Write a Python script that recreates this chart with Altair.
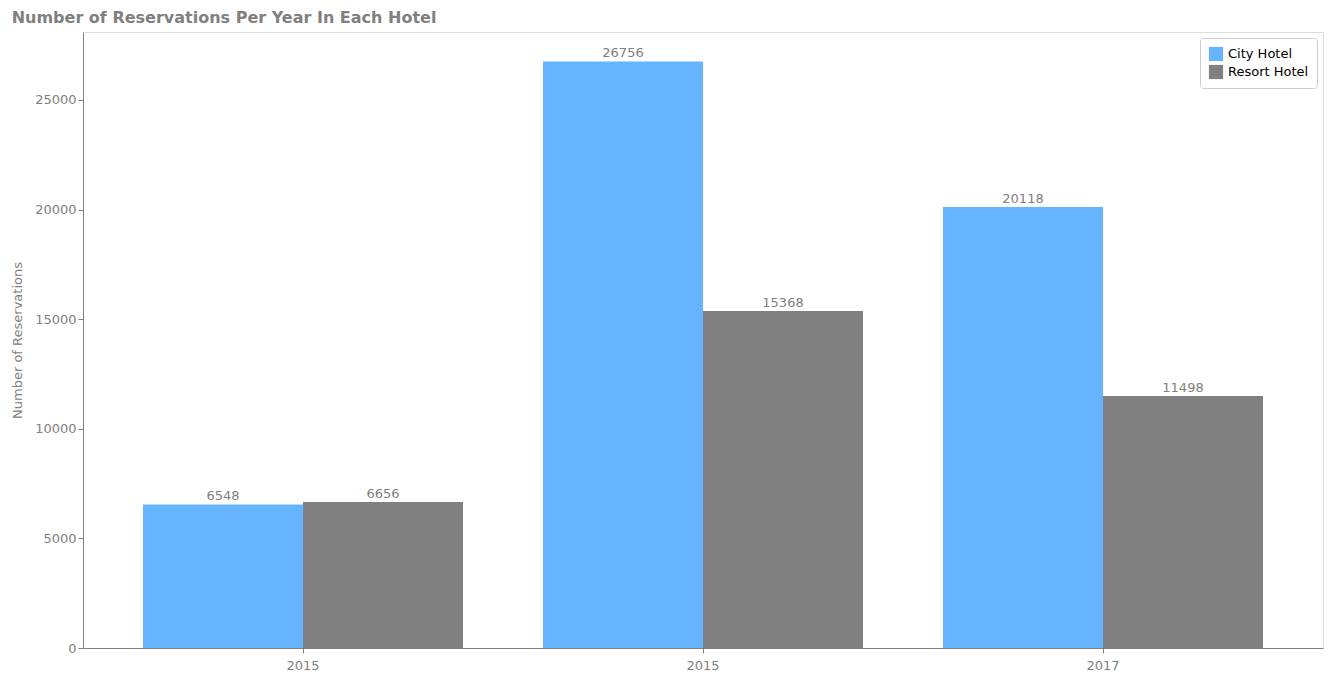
import altair as alt
import pandas as pd

year_labels = ["2015", "2015", "2017"]
hotels = ["City Hotel", "Resort Hotel"]
city = [6548, 26756, 20118]
resort = [6656, 15368, 11498]

rows = []
for i, lab in enumerate(year_labels):
    rows.append({"grp": i, "hotel": hotels[0], "n": city[i]})
    rows.append({"grp": i, "hotel": hotels[1], "n": resort[i]})
df = pd.DataFrame(rows)

label_expr = "[" + ",".join("'%s'" % y for y in year_labels) + "][datum.value]"

base = alt.Chart(df).encode(
    x=alt.X("grp:O", title=None,
            scale=alt.Scale(paddingInner=0.2, paddingOuter=0.15),
            axis=alt.Axis(labelAngle=0, labelExpr=label_expr, labelColor="gray",
                          domainColor="gray", tickColor="gray", labelFontSize=13, labelPadding=6)),
    xOffset=alt.XOffset("hotel:N", sort=hotels),
    y=alt.Y("n:Q", title="Number of Reservations",
            scale=alt.Scale(domain=[0, 28100], nice=False),
            axis=alt.Axis(values=[0, 5000, 10000, 15000, 20000, 25000], grid=False,
                          labelColor="gray", titleColor="gray", domainColor="gray",
                          tickColor="gray", labelFontSize=13, titleFontSize=13,
                          titleFontWeight="normal", titlePadding=10, format="d")),
)

bars = base.mark_bar().encode(
    color=alt.Color("hotel:N", title=None,
                    scale=alt.Scale(domain=hotels, range=["#66b3ff", "#808080"]),
                    legend=alt.Legend(orient="top-right", symbolType="square", symbolSize=200,
                                      labelFontSize=13, strokeColor="#cccccc", padding=8,
                                      fillColor="white", cornerRadius=3, offset=6))
)
text = base.mark_text(dy=-8, color="gray", fontSize=13).encode(text="n:Q")

chart = (bars + text).properties(
    width=1240, height=616,
    autosize=alt.AutoSizeParams(type="none"),
    padding={"left": 75, "top": 24, "right": 2, "bottom": 30},
    title=alt.TitleParams("Number of Reservations Per Year In Each Hotel", anchor="start",
                          color="gray", fontSize=16, fontWeight="bold", offset=6),
).configure_view(stroke=None).configure(font="DejaVu Sans")

chart.save("out.html", embed_options={"renderer": "svg", "actions": False})
